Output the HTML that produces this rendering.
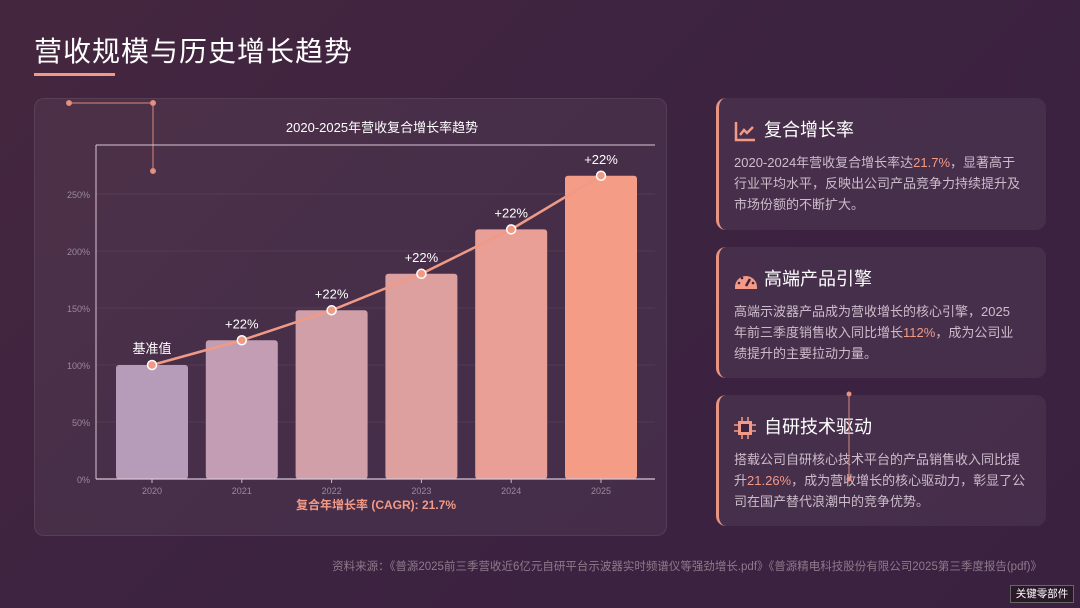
<!DOCTYPE html>
<html><head><meta charset="utf-8">
<style>
*{margin:0;padding:0;box-sizing:border-box}
body{width:1080px;height:608px;overflow:hidden;background:linear-gradient(135deg,#45263f 0%,#3c2340 50%,#3a2140 100%);font-family:"Liberation Sans","Noto Sans CJK SC",sans-serif;position:relative;color:#fff}
.title{position:absolute;left:34px;top:30px;font-size:28px;color:#fff;letter-spacing:1px}
.uline{position:absolute;left:34px;top:73px;width:81px;height:3px;background:#f29a85}
.panel{position:absolute;left:34px;top:98px;width:633px;height:438px;border-radius:10px;background:rgba(255,255,255,0.05);border:1px solid rgba(255,255,255,0.08)}
.card{position:absolute;left:716px;width:330px;border-radius:10px;background:rgba(255,255,255,0.06);border-left:3px solid #e89482}
.card h3{position:absolute;left:45px;top:18px;font-size:18px;font-weight:normal;color:#fff}
.card p{position:absolute;left:15px;top:54px;width:292px;font-size:13px;line-height:21px;color:#cdbccb}
.card .hl{color:#f29a85}
.icon{position:absolute;left:15px;top:22px}
.src{position:absolute;right:38px;top:558px;font-size:11.5px;color:#8d7b8c}
.wm{position:absolute;left:1010px;top:585px;width:64px;height:18px;background:#2a1a28;border:1px solid #666;font-size:10.5px;color:#fff;text-align:center;line-height:16px}
</style></head><body>
<div class="title">营收规模与历史增长趋势</div>
<div class="uline"></div>
<div class="panel"></div>
<svg id="chart" width="1080" height="608" style="position:absolute;left:0;top:0">
 <g id="deco" stroke="#d98a7c" stroke-width="1" fill="#e8917f">
  <line x1="69" y1="103" x2="153" y2="103"/><line x1="153" y1="103" x2="153" y2="171"/>
  <circle cx="69" cy="103" r="2.5"/><circle cx="153" cy="103" r="2.5"/><circle cx="153" cy="171" r="2.5"/>
 </g>
 <text x="382" y="132" font-size="13" fill="#fff" text-anchor="middle">2020-2025年营收复合增长率趋势</text>
 <g id="plot"></g>
 <text x="376" y="509" font-size="12" font-weight="bold" fill="#f29a85" text-anchor="middle">复合年增长率 (CAGR): 21.7%</text>
</svg>

<div class="card" style="top:98px;height:132px">
 <svg class="icon" width="22" height="22" viewBox="0 0 22 22"><path d="M2 2V20H21" stroke="#f29a85" stroke-width="2.5" fill="none"/><path d="M6 15L10 10L13 13L19 7" stroke="#f29a85" stroke-width="2.5" fill="none"/></svg>
 <h3>复合增长率</h3>
 <p>2020-2024年营收复合增长率达<span class="hl">21.7%</span>，显著高于行业平均水平，反映出公司产品竞争力持续提升及市场份额的不断扩大。</p>
</div>
<div class="card" style="top:247px;height:131px">
 <svg class="icon" width="24" height="22" viewBox="0 0 24 22"><path d="M1 18A11 11 0 0 1 23 18L23 20L1 20Z" fill="#f29a85"/><line x1="12" y1="17" x2="16" y2="10" stroke="#3d2340" stroke-width="2.5"/><circle cx="5" cy="14" r="1.3" fill="#3d2340"/><circle cx="8" cy="9" r="1.3" fill="#3d2340"/><circle cx="19" cy="14" r="1.3" fill="#3d2340"/></svg>
 <h3>高端产品引擎</h3>
 <p>高端示波器产品成为营收增长的核心引擎，2025<br>年前三季度销售收入同比增长<span class="hl">112%</span>，成为公司业绩提升的主要拉动力量。</p>
</div>
<div class="card" style="top:395px;height:131px">
 <svg class="icon" width="22" height="22" viewBox="0 0 22 22"><rect x="4" y="4" width="14" height="14" fill="#f29a85"/><g stroke="#f29a85" stroke-width="1.5"><line x1="8" y1="0" x2="8" y2="22"/><line x1="14" y1="0" x2="14" y2="22"/><line x1="0" y1="8" x2="22" y2="8"/><line x1="0" y1="14" x2="22" y2="14"/></g><rect x="7" y="7" width="8" height="8" fill="#3d2340"/></svg>
 <h3>自研技术驱动</h3>
 <p>搭载公司自研核心技术平台的产品销售收入同比提升<span class="hl">21.26%</span>，成为营收增长的核心驱动力，彰显了公司在国产替代浪潮中的竞争优势。</p>
</div>
<svg width="1080" height="608" style="position:absolute;left:0;top:0;pointer-events:none"><line x1="849" y1="394" x2="849" y2="480" stroke="#d98a7c" stroke-width="1"/><circle cx="849" cy="394" r="2.5" fill="#e8917f"/><circle cx="849" cy="479" r="2.5" fill="#e8917f"/></svg>
<div class="src">资料来源：《普源2025前三季营收近6亿元自研平台示波器实时频谱仪等强劲增长.pdf》《普源精电科技股份有限公司2025第三季度报告(pdf)》</div>
<div class="wm">关键零部件</div>
<script>
const years=["2020","2021","2022","2023","2024","2025"];
const values=[100,121.7,148,180,219,266];
const growthLabels=["基准值","+22%","+22%","+22%","+22%","+22%"];
const yTicks=[0,50,100,150,200,250];
const NS="http://www.w3.org/2000/svg";
const g=document.getElementById("plot");
const x0=96,x1=655,yB=479,pxPer=1.14,step=89.8,first=152,bw=72;
const xs=i=>first+i*step;
const ys=v=>yB-v*pxPer;
function mk(t,a){const e=document.createElementNS(NS,t);for(const k in a)e.setAttribute(k,a[k]);g.appendChild(e);return e;}
yTicks.forEach(t=>{
 if(t>0){const l=mk("line",{x1:x0,x2:x1,y1:ys(t),y2:ys(t),stroke:"rgba(255,255,255,0.06)"});
 
 }
 const tx=mk("text",{x:x0-6,y:ys(t)+4,"font-size":9,fill:"#9a8a9c","text-anchor":"end"});tx.textContent=t+"%";
 
 
});
const cols=["#b79cb9","#c39db3","#d19fa8","#de9f9f","#e99f95","#f49c86"];
years.forEach((y,i)=>{
 const r=mk("rect",{x:xs(i)-bw/2,y:ys(values[i]),width:bw,height:values[i]*pxPer,rx:3,fill:cols[i]});
 
 
 mk("line",{x1:xs(i),x2:xs(i),y1:yB,y2:yB+4,stroke:"#cbb8c8"});
 const t=mk("text",{x:xs(i),y:yB+15,"font-size":9,fill:"#9a8a9c","text-anchor":"middle"});t.textContent=y;
 
 
});
mk("line",{x1:x0,x2:x1,y1:145,y2:145,stroke:"#d8c6d6","stroke-width":1});
mk("line",{x1:x0,x2:x0,y1:145,y2:yB,stroke:"#d8c6d6","stroke-width":1});
mk("line",{x1:x0,x2:x1,y1:yB,y2:yB,stroke:"#d8c6d6","stroke-width":1.2});
const pl=mk("polyline",{points:values.map((v,i)=>xs(i)+","+ys(v)).join(" "),fill:"none",stroke:"#f09a86","stroke-width":2.5});


values.forEach((v,i)=>{
 const c=mk("circle",{cx:xs(i),cy:ys(v),r:4.5,fill:"#f09a86",stroke:"#fff","stroke-width":1.5});
 
 
 const t=mk("text",{x:xs(i),y:ys(v)-12,"font-size":13,fill:"#fff","text-anchor":"middle"});t.textContent=growthLabels[i];
 
 
});
</script>
</body></html>
